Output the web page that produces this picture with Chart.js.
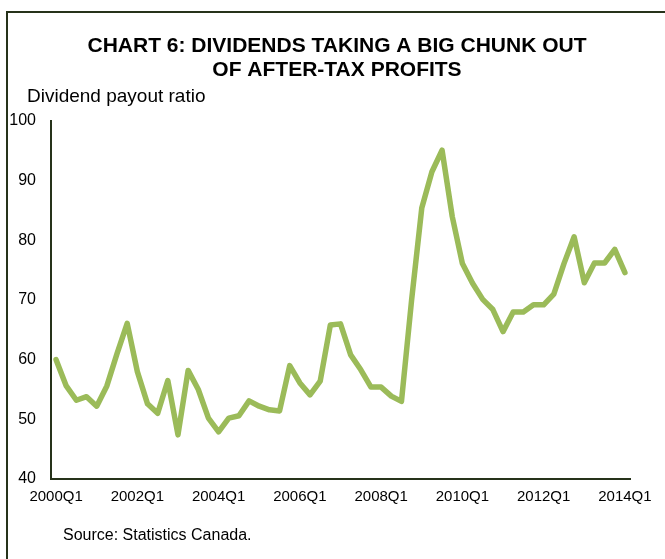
<!DOCTYPE html>
<html>
<head>
<meta charset="utf-8">
<script src="https://cdn.jsdelivr.net/npm/chart.js@4"></script>
<style>
  html, body { margin: 0; padding: 0; background: #fff; }
  #wrap { width: 665px; height: 559px; position: relative; }
</style>
</head>
<body>
<div id="wrap"><canvas id="line-chart" width="665" height="559"></canvas></div>
<script>
// dividend payout ratio, quarterly 2000Q1 - 2014Q1
var years = [2000, 2001, 2002, 2003, 2004, 2005, 2006, 2007, 2008, 2009, 2010, 2011, 2012, 2013, 2014];
var payoutRatio = [
  60, 55.6, 53.2, 53.8, 52.2, 55.6, 61, 66.1,
  58, 52.6, 51, 56.5, 47.4, 58.2, 55, 50.2,
  47.9, 50.2, 50.6, 53.1, 52.2, 51.6, 51.4, 59,
  56.1, 54.1, 56.4, 65.8, 66, 60.8, 58.3, 55.4,
  55.4, 53.9, 53, 70, 85.4, 91.5, 95.1, 84,
  76.1, 72.8, 70.1, 68.4, 64.7, 68, 68, 69.2,
  69.2, 71, 76.1, 80.6, 72.9, 76.2, 76.2, 78.5,
  74.6
];
var yTicks = [40, 50, 60, 70, 80, 90, 100];
var titleLines = ["CHART 6: DIVIDENDS TAKING A BIG CHUNK OUT", "OF AFTER-TAX PROFITS"];
var yLabel = "Dividend payout ratio";
var sourceNote = "Source: Statistics Canada.";

var quarters = [];
years.forEach(function (y) {
  for (var q = 1; q <= 4; q++) quarters.push(y + "Q" + q);
});
quarters = quarters.slice(0, payoutRatio.length);

var FONT = "'Liberation Sans', Arial, sans-serif";
var AXIS = "#26321a";

// title, axis caption, source and the box frame
var textPlugin = {
  id: 'texts',
  afterDraw: function (chart) {
    var c = chart.ctx;
    c.save();
    c.fillStyle = '#000';
    c.textBaseline = 'middle';
    c.textAlign = 'center';
    c.font = 'bold 21px ' + FONT;
    c.fillText(titleLines[0], 337, 46);
    c.fillText(titleLines[1], 337, 70);
    c.textAlign = 'left';
    c.font = '19px ' + FONT;
    c.fillText(yLabel, 27, 97);
    c.font = '16px ' + FONT;
    c.fillText(sourceNote, 63, 536);
    // frame
    c.strokeStyle = AXIS;
    c.lineWidth = 2;
    c.beginPath();
    c.moveTo(7, 559);
    c.lineTo(7, 12);
    c.lineTo(665, 12);
    c.stroke();
    c.restore();
  }
};

var ctx = document.getElementById('line-chart');
var lineChart = new Chart(ctx, {
  type: 'line',
  data: {
    labels: quarters,
    datasets: [
      {
        label: yLabel,
        data: payoutRatio,
        borderColor: "#9bbb59",
        backgroundColor: "#9bbb59",
        borderWidth: 5.5,
        pointRadius: 0,
        tension: 0,
        borderJoinStyle: 'round',
        borderCapStyle: 'round'
      }
    ]
  },
  options: {
    responsive: false,
    maintainAspectRatio: false,
    animation: false,
    layout: { padding: { left: 0, right: 35, top: 121, bottom: 40 } },
    plugins: {
      legend: { display: false },
      tooltip: { enabled: false }
    },
    scales: {
      x: {
        type: 'category',
        offset: true,
        grid: { display: false, drawTicks: false },
        border: { display: true, color: AXIS, width: 2 },
        ticks: {
          autoSkip: false,
          maxRotation: 0,
          padding: 9,
          color: '#000',
          font: { family: FONT, size: 15 },
          callback: function (val, i) { return i % 8 === 0 ? quarters[i] : null; }
        },
        afterFit: function (s) { s.height = 40; }
      },
      y: {
        min: yTicks[0],
        max: yTicks[yTicks.length - 1],
        afterBuildTicks: function (s) { s.ticks = yTicks.map(function (v) { return { value: v }; }); },
        grid: { display: false, drawTicks: false },
        border: { display: true, color: AXIS, width: 2 },
        ticks: {
          padding: 15,
          color: '#000',
          font: { family: FONT, size: 16 }
        },
        afterFit: function (s) { s.width = 51; }
      }
    }
  },
  plugins: [textPlugin]
});
</script>
</body>
</html>
